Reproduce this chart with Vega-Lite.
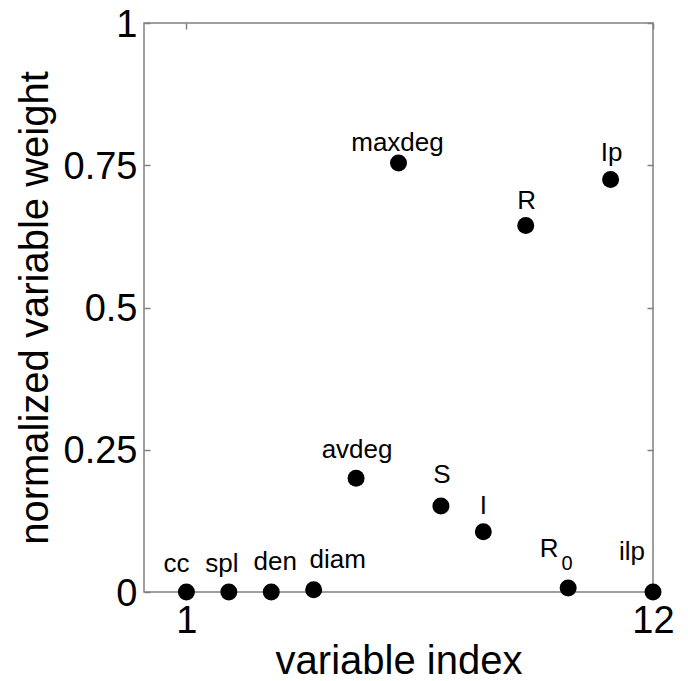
{
  "$schema": "https://vega.github.io/schema/vega-lite/v6.json",
  "width": 509,
  "height": 569,
  "autosize": {"type": "none"},
  "padding": {"left": 144, "top": 23, "right": 35, "bottom": 89},
  "background": "#ffffff",
  "config": {
    "font": "Liberation Sans",
    "view": {"stroke": "#808080", "strokeWidth": 1.5},
    "axis": {
      "domain": false,
      "grid": false,
      "tickColor": "#808080",
      "tickSize": -6,
      "tickWidth": 1.5,
      "labelColor": "#000000",
      "titleColor": "#000000",
      "titleFontWeight": "normal"
    }
  },
  "data": {
    "values": [
      {"idx": 1, "w": 0, "label": "cc"},
      {"idx": 2, "w": 0, "label": "spl"},
      {"idx": 3, "w": 0, "label": "den"},
      {"idx": 4, "w": 0.004, "label": "diam"},
      {"idx": 5, "w": 0.2, "label": "avdeg"},
      {"idx": 6, "w": 0.754, "label": "maxdeg"},
      {"idx": 7, "w": 0.151, "label": "S"},
      {"idx": 8, "w": 0.106, "label": "I"},
      {"idx": 9, "w": 0.644, "label": "R"},
      {"idx": 10, "w": 0.007, "label": "R", "sub": "0"},
      {"idx": 11, "w": 0.725, "label": "Ip"},
      {"idx": 12, "w": 0, "label": "ilp"}
    ]
  },
  "layer": [
    {
      "mark": {"type": "point", "filled": true, "shape": "circle", "size": 289, "color": "#000000", "opacity": 1},
      "encoding": {
        "x": {
          "field": "idx", "type": "quantitative",
          "scale": {"domain": [0, 12], "nice": false, "zero": false},
          "axis": {"orient": "bottom", "values": [1, 12], "labelFontSize": 38, "labelPadding": 16, "labelFlush": false, "title": "variable index", "titleFontSize": 40, "titlePadding": 1}
        },
        "y": {
          "field": "w", "type": "quantitative",
          "scale": {"domain": [0, 1], "nice": false},
          "axis": {"orient": "left", "values": [0, 0.25, 0.5, 0.75, 1], "labelExpr": "'' + datum.value", "labelFontSize": 38, "labelPadding": 13, "labelOffset": 2, "labelFlush": false, "title": "normalized variable weight", "titleFontSize": 40, "titlePadding": 8}
        }
      }
    },
    {
      "mark": {
        "type": "text", "fontSize": 26, "baseline": "alphabetic", "align": "center", "color": "#000000",
        "dx": {"expr": "[0,-10,-7,4,24,1,-1,1,0,1,-19,1,-21][datum.idx]"},
        "dy": {"expr": "[0,-20,-20,-22,-22,-20,-12,-23,-18,-17,-31,-18,-32][datum.idx]"}
      },
      "encoding": {
        "x": {"field": "idx", "type": "quantitative", "axis": {"orient": "top", "values": [1, 12], "labels": false, "title": null}},
        "y": {"field": "w", "type": "quantitative", "axis": {"orient": "right", "values": [0.25, 0.5, 0.75, 1], "labels": false, "title": null}},
        "text": {"field": "label"}
      }
    },
    {
      "transform": [{"filter": "isValid(datum.sub)"}],
      "mark": {"type": "text", "fontSize": 20, "baseline": "alphabetic", "align": "center", "color": "#000000", "dx": -1, "dy": -18},
      "encoding": {
        "x": {"field": "idx", "type": "quantitative", "axis": null},
        "y": {"field": "w", "type": "quantitative", "axis": null},
        "text": {"field": "sub"}
      }
    }
  ],
  "resolve": {"axis": {"x": "independent", "y": "independent"}}
}
